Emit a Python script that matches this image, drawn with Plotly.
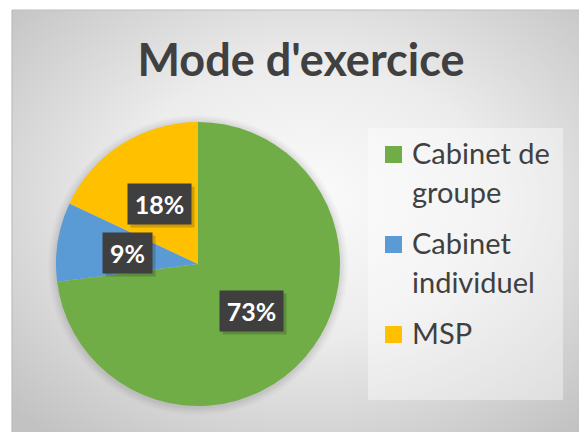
import base64
import math
import plotly.graph_objects as go

# ---- data ----
categories = ["Cabinet de groupe", "Cabinet individuel", "MSP"]
legend_lines = [["Cabinet de", "groupe"], ["Cabinet", "individuel"], ["MSP"]]
values = [73, 9, 18]
colors = ["#70ad47", "#5b9bd5", "#ffc000"]
title_text = "Mode d'exercice"

# ---- layout constants (pixels) ----
W, H = 579, 432
FRAME_L, FRAME_T = 12, 10
CX, CY, R = 198, 264, 142
LEG_L, LEG_T, LEG_R, LEG_B = 368, 128, 563, 400
LEG_SYM_X, LEG_TEXT_X = 385, 411
LEG_FIRST_BASE, LEG_LINE, LEG_ITEM_GAP = 163, 39, 12
SYM = 17
TEXT_COLOR = "#404040"

def px(x):
    return x / W

def py(y):
    return 1 - y / H

# background radial gradient (decoration)
svg = (
    '<svg xmlns="http://www.w3.org/2000/svg" width="567" height="422" preserveAspectRatio="none">'
    '<defs><radialGradient id="g" cx="52%" cy="45%" r="72%">'
    '<stop offset="0" stop-color="#fbfbfb"/>'
    '<stop offset="0.45" stop-color="#ececec"/>'
    '<stop offset="1" stop-color="#c2c2c2"/>'
    '</radialGradient></defs>'
    '<rect width="567" height="422" fill="url(#g)"/></svg>'
)
bg_src = "data:image/svg+xml;base64," + base64.b64encode(svg.encode()).decode()

fig = go.Figure()
fig.add_trace(go.Pie(
    labels=categories,
    values=values,
    marker=dict(colors=colors, line=dict(width=0)),
    sort=False,
    direction="clockwise",
    rotation=0,
    textinfo="none",
    hoverinfo="label+percent",
    domain=dict(x=[px(CX - R), px(CX + R)], y=[py(CY + R), py(CY - R)]),
    showlegend=False,
))

shapes = []
# soft shadow around the pie
for i, a in enumerate([0.02, 0.025, 0.03, 0.035]):
    d = 8 - 2 * i
    shapes.append(dict(type="circle", xref="paper", yref="paper", layer="below",
                       x0=px(CX - R - d), x1=px(CX + R + d),
                       y0=py(CY + R + d + 1), y1=py(CY - R - d + 1),
                       fillcolor=f"rgba(0,0,0,{a})", line=dict(width=0)))
# legend panel
shapes.append(dict(type="rect", xref="paper", yref="paper", layer="below",
                   x0=px(LEG_L), x1=px(LEG_R), y0=py(LEG_B), y1=py(LEG_T),
                   fillcolor="rgba(255,255,255,0.4)", line=dict(width=0)))
# frame border
shapes.append(dict(type="line", xref="paper", yref="paper", layer="above",
                   x0=px(FRAME_L), x1=px(FRAME_L), y0=0, y1=py(FRAME_T),
                   line=dict(color="#bdbdbd", width=1.2)))
shapes.append(dict(type="line", xref="paper", yref="paper", layer="above",
                   x0=px(FRAME_L), x1=1, y0=py(FRAME_T), y1=py(FRAME_T),
                   line=dict(color="#bdbdbd", width=1.2)))

annotations = []

# legend (symbol + lines), built from the category lists
base = LEG_FIRST_BASE
for lines, col in zip(legend_lines, colors):
    shapes.append(dict(type="rect", xref="paper", yref="paper", layer="above",
                       x0=px(LEG_SYM_X), x1=px(LEG_SYM_X + SYM),
                       y0=py(base), y1=py(base - SYM),
                       fillcolor=col, line=dict(width=0)))
    for j, line in enumerate(lines):
        b = base + j * LEG_LINE
        annotations.append(dict(x=px(LEG_TEXT_X), y=py(b - 11), xref="paper", yref="paper",
                                xanchor="left", yanchor="middle", text=line,
                                showarrow=False, borderpad=0,
                                font=dict(family="Lato", size=29, color=TEXT_COLOR)))
    base += len(lines) * LEG_LINE + LEG_ITEM_GAP

# percentage labels in dark boxes, placed at half radius of slice mid-angle
total = sum(values)
cum = 0
for v in values:
    mid = (cum + v / 2) / total * 2 * math.pi
    cum += v
    lx = CX + 0.5 * R * math.sin(mid)
    ly = CY - 0.5 * R * math.cos(mid)
    txt = f"{round(100 * v / total)}%"
    bw = 14 * len(txt) + 21
    annotations.append(dict(x=px(lx + 3), y=py(ly + 3), xref="paper", yref="paper",
                            xanchor="center", yanchor="middle",
                            text="", showarrow=False, width=bw, height=40,
                            bgcolor="rgba(0,0,0,0.18)", borderpad=0))
    annotations.append(dict(x=px(lx), y=py(ly), xref="paper", yref="paper",
                            xanchor="center", yanchor="middle",
                            text=f"<b>{txt}</b>", showarrow=False, width=bw, height=40,
                            bgcolor="#3f3f3f", borderpad=0,
                            font=dict(family="Lato", size=25, color="white")))

fig.update_layout(
    width=W, height=H,
    margin=dict(l=0, r=0, t=0, b=0),
    paper_bgcolor="white",
    plot_bgcolor="white",
    title=dict(text=f"<b>{title_text}</b>", x=px(301), xanchor="center",
               y=py(60), yanchor="middle", yref="container",
               font=dict(family="Lato", size=45, color=TEXT_COLOR)),
    showlegend=False,
    shapes=shapes,
    annotations=annotations,
    images=[dict(source=bg_src, xref="paper", yref="paper",
                 x=px(FRAME_L), y=py(FRAME_T), sizex=px(W - FRAME_L), sizey=(H - FRAME_T) / H,
                 xanchor="left", yanchor="top", sizing="stretch", layer="below")],
)

fig.write_html("out.html", config={"displayModeBar": False},
               post_script="document.body.style.margin='0';document.body.style.overflow='hidden';")
